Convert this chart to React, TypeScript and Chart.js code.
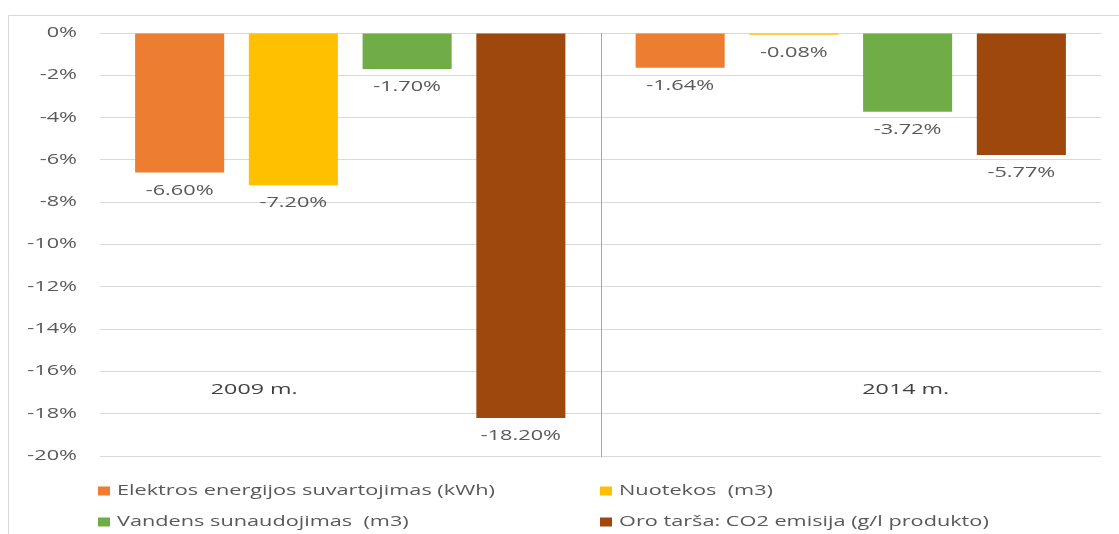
import React, { useEffect, useRef } from "react";
import { Chart, registerables } from "chart.js";

Chart.register(...registerables);

const categories = ["2009 m.", "2014 m."];
const seriesNames = [
  "Elektros energijos suvartojimas (kWh)",
  "Nuotekos  (m3)",
  "Vandens sunaudojimas  (m3)",
  "Oro tarša: CO2 emisija (g/l produkto)",
];
const electricity = [-6.6, -1.64];
const wastewater = [-7.2, -0.08];
const water = [-1.7, -3.72];
const co2 = [-18.2, -5.77];
const seriesColors = ["#ED7D31", "#FFC000", "#70AD47", "#9E480E"];
const yMin = -20;
const yMax = 0;
const yStep = 2;

const FONT = "'Open Sans', 'Liberation Sans', sans-serif";
const SX = 1.55;

function sText(
  ctx: CanvasRenderingContext2D,
  text: string,
  x: number,
  y: number,
  align: CanvasTextAlign,
  font: string,
  color: string
) {
  ctx.save();
  ctx.translate(x, y);
  ctx.scale(SX, 1);
  ctx.font = font;
  ctx.fillStyle = color;
  ctx.textAlign = align;
  ctx.textBaseline = "middle";
  ctx.fillText(text, 0, 0);
  ctx.restore();
}

const decorPlugin = {
  id: "decor",
  afterDraw(chart: any) {
    const ctx: CanvasRenderingContext2D = chart.ctx;
    const area = chart.chartArea;
    const xs = chart.scales.x;
    const ys = chart.scales.y;

    // outer border (top + left)
    ctx.save();
    ctx.strokeStyle = "#d9d9d9";
    ctx.lineWidth = 1;
    ctx.beginPath();
    ctx.moveTo(8.5, chart.height);
    ctx.lineTo(8.5, 15.5);
    ctx.lineTo(chart.width, 15.5);
    ctx.stroke();

    // separator between categories
    const sep = Math.round((xs.getPixelForValue(0) + xs.getPixelForValue(1)) / 2) + 0.5;
    ctx.strokeStyle = "#a6a6a6";
    ctx.beginPath();
    ctx.moveTo(sep, area.top);
    ctx.lineTo(sep, area.bottom + 1);
    ctx.stroke();
    ctx.restore();

    // y tick labels
    const tickFont = `14px ${FONT}`;
    ys.ticks.forEach((t: any) => {
      const v = Math.round(t.value);
      sText(ctx, `${v === 0 ? 0 : v}%`, 77, ys.getPixelForValue(t.value), "right", tickFont, "#595959");
    });

    // data labels
    chart.data.datasets.forEach((ds: any, di: number) => {
      const meta = chart.getDatasetMeta(di);
      meta.data.forEach((el: any, i: number) => {
        const v = ds.data[i] as number;
        sText(ctx, `${v.toFixed(2)}%`, el.x, el.y + 18, "center", tickFont, "#595959");
      });
    });

    // category labels inside plot
    const catOffsets = [-96, 55];
    chart.data.labels.forEach((lab: string, i: number) => {
      sText(
        ctx,
        lab,
        xs.getPixelForValue(i) + catOffsets[i],
        ys.getPixelForValue(-17) - 3,
        "center",
        `15px ${FONT}`,
        "#404040"
      );
    });

    // legend (2 columns)
    const colX = [98, 600];
    const rowY = [491, 522];
    chart.data.datasets.forEach((ds: any, di: number) => {
      const cx = colX[di % 2];
      const cy = rowY[Math.floor(di / 2)];
      ctx.fillStyle = ds.backgroundColor;
      ctx.fillRect(cx, cy - 4.5, 12, 9);
      sText(ctx, ds.label, cx + 19, cy, "left", tickFont, "#595959");
    });
  },
};

export default function App() {
  const ref = useRef<HTMLCanvasElement | null>(null);

  useEffect(() => {
    if (!ref.current) return;
    const seriesData = [electricity, wastewater, water, co2];
    const chart = new Chart(ref.current, {
      type: "bar",
      data: {
        labels: categories,
        datasets: seriesNames.map((name, i) => ({
          label: name,
          data: seriesData[i],
          backgroundColor: seriesColors[i],
          borderWidth: 0,
          categoryPercentage: 0.909,
          barPercentage: 0.783,
        })),
      },
      options: {
        responsive: false,
        animation: false,
        layout: { padding: { left: 100, right: 18, top: 33, bottom: 78 } },
        plugins: {
          legend: { display: false },
          tooltip: { enabled: false },
        },
        scales: {
          x: {
            display: true,
            grid: { display: false, drawTicks: false },
            border: { display: false },
            ticks: { display: false },
          },
          y: {
            min: yMin,
            max: yMax,
            grid: { color: "#d9d9d9", lineWidth: 1, drawTicks: false },
            border: { display: false },
            ticks: { display: false, stepSize: yStep },
          },
        },
      },
      plugins: [decorPlugin],
    });
    return () => chart.destroy();
  }, []);

  return (
    <div style={{ position: "absolute", left: 0, top: 0, width: 1119, height: 534, background: "#fff" }}>
      <canvas ref={ref} width={1119} height={534} style={{ display: "block" }} />
    </div>
  );
}
